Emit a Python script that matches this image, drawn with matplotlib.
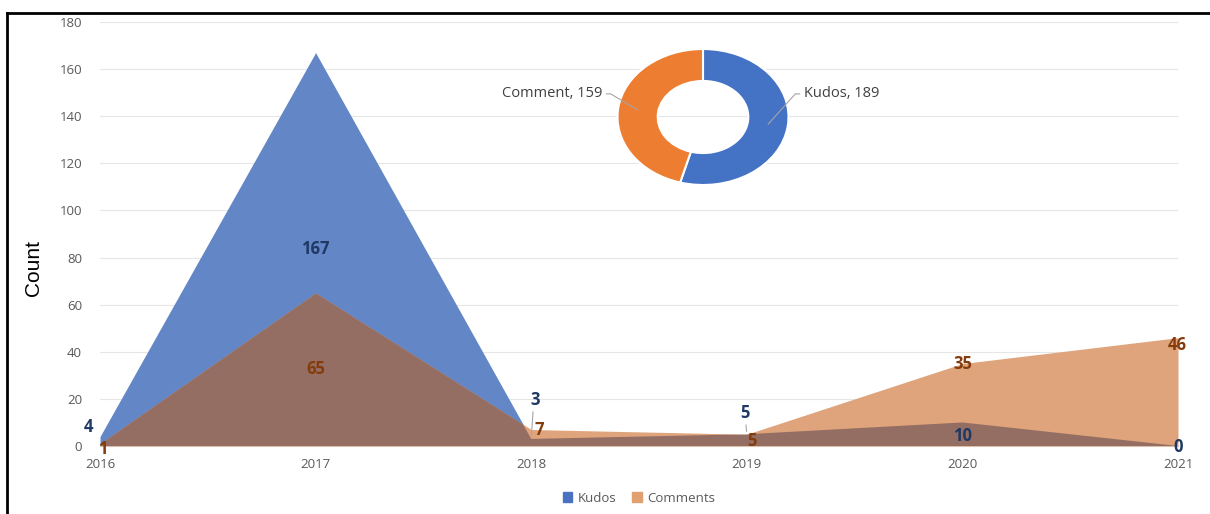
import numpy as np
import matplotlib
matplotlib.use("Agg")
import matplotlib.pyplot as plt
from matplotlib.lines import Line2D
from matplotlib.patches import Patch

plt.rcParams['font.family'] = ['Open Sans', 'DejaVu Sans']

# Dados
anos = [2016, 2017, 2018, 2019, 2020, 2021]
kudos = [4, 167, 3, 5, 10, 0]
comments = [1, 65, 7, 5, 35, 46]
totais_nomes = ["Kudos", "Comment"]
totais = [189, 159]

# estilo
cor_kudos = "#6286c6"
cor_comments = "#dfa47b"
cor_sobreposicao = "#946e63"
cor_lbl_kudos = "#1f3864"
cor_lbl_comments = "#843c0c"
cinza = "#595959"

# deslocamento dos rótulos (px) e fração da altura
off_kudos = [(-12, 10, 1), (0, 0, 0.5), (4, 39, 1), (-2, 21, 1), (0, -14, 1), (0, -1, 1)]
off_comments = [(3, -5, 1), (0, 0, 0.5), (8, 0, 1), (5, -7, 1), (0, 0, 1), (-1, -7, 1)]

fig = plt.figure(figsize=(12.1, 5.14), dpi=100)
ax = fig.add_axes([100 / 1210, 1 - 446 / 514, 1078 / 1210, 424 / 514])

ax.fill_between(anos, kudos, color=cor_kudos, linewidth=0, zorder=2)
ax.fill_between(anos, comments, color=cor_comments, linewidth=0, zorder=3)
# área comum (comments recortado pela área de kudos)
pk = ax.fill_between(anos, kudos, color="none", linewidth=0)
clip = pk.get_paths()[0]
sob = ax.fill_between(anos, comments, color=cor_sobreposicao, linewidth=0, zorder=4)
sob.set_clip_path(clip, ax.transData)

ax.set_xlim(2016, 2021)
ax.set_ylim(0, 180)
ax.set_yticks(range(0, 181, 20))
ax.set_xticks(anos)
ax.grid(axis='y', color="#e6e6e6", linewidth=0.8, zorder=0)
ax.set_axisbelow(True)
for s in ["top", "right", "left"]:
    ax.spines[s].set_visible(False)
ax.spines["bottom"].set_color("#d9d9d9")
ax.tick_params(axis='both', length=0, colors=cinza, labelsize=9.5)
ax.tick_params(axis='y', pad=13)
ax.tick_params(axis='x', pad=9)
ax.set_ylabel("Count", fontsize=15, family=['Liberation Sans', 'DejaVu Sans'], color="black")
ax.yaxis.set_label_coords(-0.053, 0.42)

# rótulos de dados
for x, v, (dx, dy, f) in zip(anos, kudos, off_kudos):
    ax.annotate(str(v), (x, v * f), xytext=(dx, dy), textcoords='offset pixels',
                ha='center', va='center', fontsize=12, fontweight='bold',
                color=cor_lbl_kudos, zorder=6, annotation_clip=False)
for x, v, (dx, dy, f) in zip(anos, comments, off_comments):
    ax.annotate(str(v), (x, v * f), xytext=(dx, dy), textcoords='offset pixels',
                ha='center', va='center', fontsize=12, fontweight='bold',
                color=cor_lbl_comments, zorder=6, annotation_clip=False)
# linhas-guia pequenas
ax.annotate("", (2018, kudos[2]), xytext=(2, 30), textcoords='offset pixels',
            arrowprops=dict(arrowstyle='-', color="#a6a6a6", lw=0.8), zorder=6)
ax.annotate("", (2019, kudos[3]), xytext=(-1, 12), textcoords='offset pixels',
            arrowprops=dict(arrowstyle='-', color="#a6a6a6", lw=0.8), zorder=6)

ax.legend(handles=[Patch(color="#4a72c0", label="Kudos"), Patch(color="#e0a070", label="Comments")],
          loc='center', bbox_to_anchor=(0.5, -0.123), ncol=2, frameon=False,
          fontsize=9.5, labelcolor=cinza, handlelength=0.7, handleheight=0.7,
          handletextpad=0.4, columnspacing=1.2)

# rosca
axp = fig.add_axes([(703 - 85.5) / 1210, 1 - (117 + 68) / 514, 171 / 1210, 136 / 514])
wedges, _ = axp.pie(totais, colors=["#4472c4", "#ed7d31"], startangle=90, counterclock=False,
                    radius=1, wedgeprops=dict(width=0.47, edgecolor='white', linewidth=1.5))
axp.set_aspect('auto')
axp.set_xlim(-1, 1)
axp.set_ylim(-1, 1)
for w, nome, val in zip(wedges, totais_nomes, totais):
    ang = np.deg2rad((w.theta1 + w.theta2) / 2)
    px, py = 0.77 * np.cos(ang), 0.77 * np.sin(ang)
    lado = np.sign(px)
    ex, ey = lado * 1.08, 0.34
    axp.plot([px, ex, ex + lado * 0.05], [py, ey, ey], color="#a6a6a6", lw=0.8, clip_on=False)
    axp.text(ex + lado * 0.1, ey, f"{nome}, {val}", ha='left' if lado > 0 else 'right',
             va='center', fontsize=10.5, color="#404040")

# moldura
fig.add_artist(Line2D([7 / 1210, 7 / 1210], [0, 1 - 13 / 514], color='black', lw=2))
fig.add_artist(Line2D([7 / 1210, 1], [1 - 13 / 514, 1 - 13 / 514], color='black', lw=2))

fig.savefig("out.png", dpi=100)
